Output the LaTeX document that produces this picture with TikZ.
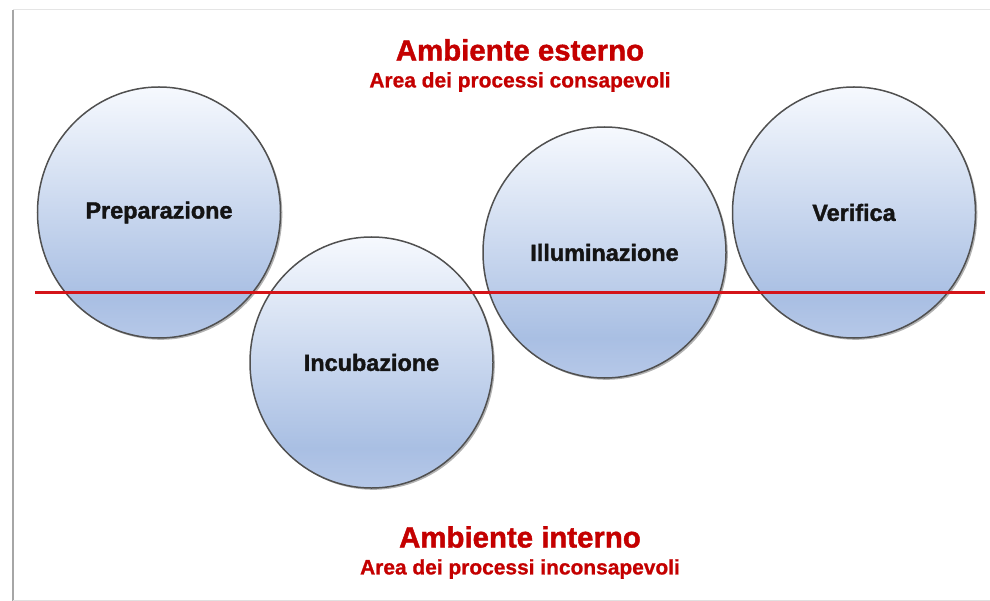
\documentclass[tikz,border=0pt]{standalone}
\usepackage{fontspec}
\setmainfont{Liberation Sans}
\newfontfamily\heavyfont[FakeBold=1.6]{Liberation Sans Bold}
\newfontfamily\titlefont[FakeBold=1.4]{Liberation Sans Bold}
\newfontfamily\semiheavyfont[FakeBold=0.9]{Liberation Sans Bold}
\usetikzlibrary{shadows,shapes.geometric}
\definecolor{redtxt}{HTML}{C40000}
\definecolor{redline}{HTML}{D41419}
\definecolor{ctop}{HTML}{F6F9FE}
\definecolor{cbot}{HTML}{A9BFE3}
\definecolor{cbotlow}{HTML}{B6C8E8}
\definecolor{cedge}{HTML}{505050}
\pgfdeclareverticalshading{stageshade}{100bp}{color(0bp)=(cbotlow); color(25bp)=(cbotlow); color(33bp)=(cbot); color(75bp)=(ctop); color(100bp)=(ctop)}
\begin{document}
\begin{tikzpicture}[x=1bp,y=-1bp,
  stage/.style={ellipse, draw=cedge, line width=1.5bp, minimum width=243bp, minimum height=251bp, inner sep=0pt,
    shading=stageshade,
    drop shadow={shadow xshift=1.8bp, shadow yshift=-1.8bp, opacity=0.3, fill=black},
    font=\fontsize{23.5}{27}\selectfont\heavyfont, text=black!92},
  title/.style={text=redtxt, font=\fontsize{29.5}{34}\selectfont\titlefont, inner sep=0pt},
  subtitle/.style={text=redtxt, font=\fontsize{21}{24}\selectfont\semiheavyfont, inner sep=0pt},
  divider/.style={draw=redline, line width=3bp}]
\useasboundingbox (0,0) rectangle (990,601);
\fill[white] (0,0) rectangle (990,601);
% page edges
\draw[black!35, line width=1.6bp] (13,10) -- (13,601);
\draw[black!10, line width=1bp] (13,10) -- (990,10);
\draw[black!12, line width=1bp] (13,600) -- (990,600);
% titles
\node[title] (ext) at (520,50) {Ambiente esterno};
\node[subtitle] (extsub) at (520,82) {Area dei processi consapevoli};
\node[title] (int) at (520,537) {Ambiente interno};
\node[subtitle] (intsub) at (520,569) {Area dei processi inconsapevoli};
% stages
\node[stage] (prep) at (159,212.5) {Preparazione};
\node[stage] (incu) at (371.5,362.5) {Incubazione};
\node[stage] (illu) at (604.5,252.5) {Illuminazione};
\node[stage] (veri) at (854,212.5) {Verifica};
% dividing line
\coordinate (la) at (35,292);
\coordinate (lb) at (985,292);
\draw[divider] (la) -- (lb);
\end{tikzpicture}
\end{document}
